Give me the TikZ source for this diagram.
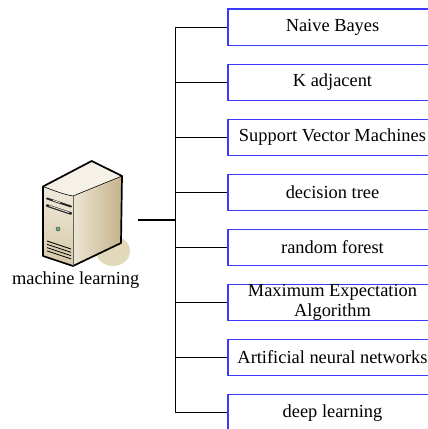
\documentclass[tikz,border=0pt]{standalone}
\usepackage{fontspec}
\setmainfont{Liberation Serif}
\definecolor{boxblue}{HTML}{3B3BFF}
\definecolor{topc}{HTML}{F5F1E6}
\definecolor{rightl}{HTML}{ECE5D3}
\definecolor{rightd}{HTML}{C6B38C}
\definecolor{frontl}{HTML}{F0EADC}
\definecolor{frontd}{HTML}{D6C8A6}
\definecolor{shadowc}{HTML}{E2D8BA}
\definecolor{dotc}{HTML}{5FB08F}
\tikzset{
  algbox/.style={draw=boxblue, line width=1.1pt, minimum width=209pt, minimum height=36.5pt,
    inner sep=0pt, align=center, font=\fontsize{18.4}{20}\selectfont},
  link/.style={draw=black, line width=1.2pt},
  outl/.style={draw=black, line width=1.7pt, line join=round},
  lbl/.style={font=\fontsize{18.4}{20}\selectfont, inner sep=0pt}
}
\begin{document}
\begin{tikzpicture}[x=1pt,y=-1pt]
\useasboundingbox (0,0) rectangle (428,429);
\clip (0,0) rectangle (428,429);
% boxes
\node[algbox] (b1) at (332.5,27.2) {Naive Bayes};
\node[algbox] (b2) at (332.5,82.3) {K adjacent};
\node[algbox] (b3) at (332.5,137.3) {Support Vector Machines};
\node[algbox] (b4) at (332.5,192.4) {decision tree};
\node[algbox] (b5) at (332.5,247.4) {random forest};
\node[algbox] (b6) at (332.5,302.5) {Maximum Expectation\\Algorithm};
\node[algbox] (b7) at (332.5,357.5) {Artificial neural networks};
\node[algbox] (b8) at (332.5,412.6) {deep learning};
% junction and server
\coordinate (j) at (175.7,220);
\coordinate (srv) at (138,220);
\draw[link] (srv) -- (j);
\foreach \b in {b1,b2,b3,b4,b5,b6,b7,b8}{
  \draw[link] (\b.west) -| (j);
}
% server icon
\fill[shadowc] (113,251) ellipse (17 and 15);
% right face
\shade[left color=rightl, right color=rightd] (73,196) -- (122,176) -- (121,243) -- (73,266) -- cycle;
% front face
\shade[top color=frontl, bottom color=frontd] (43,186.5) .. controls (55,191) and (64,194.5) .. (73,196) -- (73,266) -- (43,256) -- cycle;
% top face
\fill[topc] (43,186.5) -- (91.7,161) -- (122,176) -- (73,196) .. controls (64,194.5) and (55,191) .. (43,186.5) -- cycle;
% outlines
\draw[outl] (43,186.5) -- (91.7,161) -- (122,176) -- (121,243) -- (73,266) -- (43,256) -- cycle;
\draw[black, line width=0.6pt] (43,186.5) .. controls (55,191) and (64,194.5) .. (73,196) -- (122,176);
\draw[black!60, line width=0.5pt] (73,196) -- (73,266);
% front details
\draw[black!85, line width=2pt, line cap=round] (47,198.5) -- (71,206.5);
\draw[white!80!gray, line width=0.8pt] (53,200.3) -- (60,202.6);
\draw[black!85, line width=2.6pt, line cap=round] (47,205.5) -- (71,213.5);
\draw[frontl, line width=0.8pt] (49,205.8) -- (69,212.5);
\filldraw[fill=dotc, draw=black!70, line width=0.5pt] (58,229) circle (2);
\foreach \k in {0,1,2,3}{
  \draw[black, line width=0.8pt] (47,{241+3.3*\k}) -- (71,{249+3.3*\k});
}
\node[lbl, anchor=base] (ml) at (75.7,284) {machine learning};
\end{tikzpicture}
\end{document}
